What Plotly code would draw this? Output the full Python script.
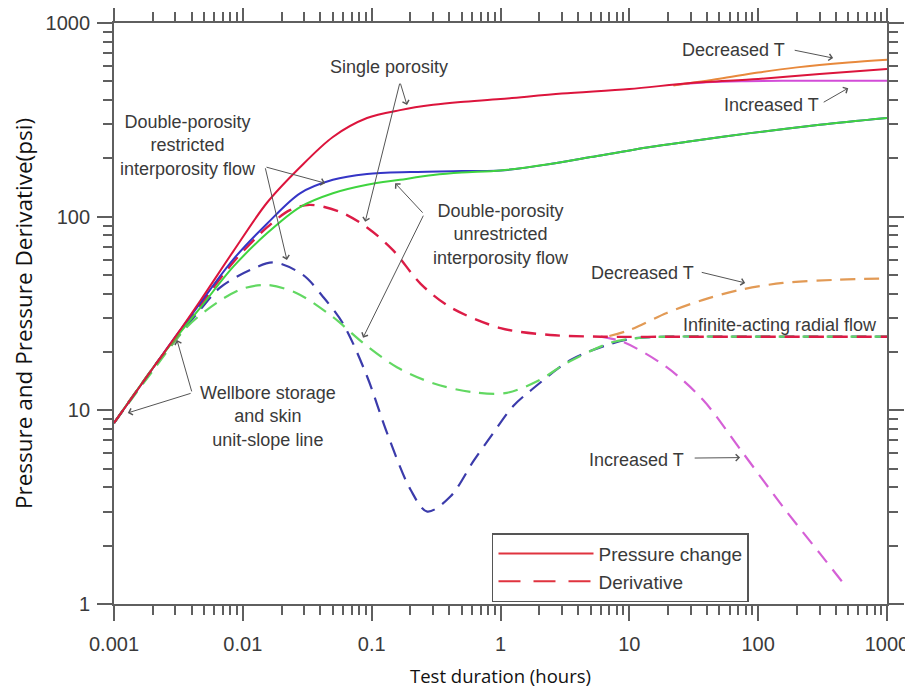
import math
import plotly.graph_objects as go

# ---------------- data ----------------
# Single porosity – pressure change (solid red)
red_p_x = [0.001, 0.002, 0.003, 0.0047, 0.0084, 0.0154, 0.0278, 0.05, 0.092, 0.166, 0.3, 0.49, 1, 3, 10, 30, 100, 300, 1000]
red_p_y = [8.6, 16.5, 24, 37, 66, 118, 180, 258, 323, 355, 378, 391, 405, 432, 456, 490, 514, 545, 578]

# Decreased T – pressure (solid orange)
org_p_x = [22, 50, 100, 200, 500, 1000]
org_p_y = [476, 515, 555, 590, 625, 646]

# Increased T – pressure (solid magenta)
mag_p_x = [22, 40, 80, 200, 1000]
mag_p_y = [478, 495, 501, 503, 503]

# Double porosity restricted – pressure (solid blue)
blu_p_x = [0.001, 0.002, 0.003, 0.0047, 0.0084, 0.0154, 0.0278, 0.05, 0.092, 0.2, 0.5, 1, 2.43, 5, 14.5, 30, 86.7, 300, 1000]
blu_p_y = [8.6, 16.5, 24, 36, 60, 92, 132, 155, 166, 170, 172, 173, 187, 203, 229, 245, 270, 298, 323]

# Double porosity unrestricted – pressure (solid green)
grn_p_x = [0.001, 0.002, 0.003, 0.0047, 0.0084, 0.0154, 0.0278, 0.05, 0.092, 0.166, 0.3, 0.5, 1, 2.43, 5, 14.5, 30, 86.7, 300, 1000]
grn_p_y = [8.6, 16.5, 23.5, 34, 55, 82, 112, 132, 146, 155, 164, 169, 173, 187, 203, 229, 245, 270, 298, 323]

# Single porosity – derivative (dashed red)
red_d_x = [0.001, 0.002, 0.003, 0.0047, 0.0084, 0.0154, 0.0232, 0.033, 0.0566, 0.092, 0.147, 0.24, 0.41, 1, 2.43, 6, 30, 100, 1000]
red_d_y = [8.6, 16.5, 23.5, 35, 58, 88, 108, 115, 106, 88, 67, 45, 34, 26.6, 24.5, 24, 24, 24, 24]

# Decreased T – derivative (dashed orange)
org_d_x = [7, 10.1, 19.5, 37.4, 72.5, 156, 400, 1000]
org_d_y = [24.2, 26, 31.8, 37.2, 41.9, 45.5, 47.2, 48]

# Increased T – derivative (dashed magenta)
mag_d_x = [6, 9, 19.5, 37.4, 72.5, 156, 300, 490]
mag_d_y = [24, 22.5, 16.7, 11.3, 6.3, 3.17, 1.83, 1.21]

# Double porosity restricted – derivative (dashed blue)
blu_d_x = [0.001, 0.002, 0.003, 0.00465, 0.00665, 0.0114, 0.0175, 0.0293, 0.042, 0.06, 0.092, 0.132, 0.2, 0.27, 0.41, 0.62, 0.85, 1.25, 1.8, 3.5, 7.1, 10.7, 20, 100, 1000]
blu_d_y = [8.6, 16.3, 23, 33, 43, 53, 58, 50, 38.5, 28, 15, 7.6, 3.9, 3.0, 3.6, 5.5, 7.4, 10.5, 13, 18.2, 22, 23.5, 24, 24, 24]

# Double porosity unrestricted – derivative (dashed green)
grn_d_x = [0.001, 0.002, 0.0037, 0.0063, 0.01, 0.0154, 0.026, 0.05, 0.0857, 0.157, 0.3, 0.61, 1.12, 2.03, 3.29, 7.1, 10.7, 20, 100, 1000]
grn_d_y = [8.6, 16, 27, 36, 42.5, 44.4, 40.4, 30.3, 22.3, 16.7, 13.8, 12.4, 12.3, 14.4, 17.6, 22.3, 23.5, 24, 24, 24]

x_tick_vals = [0.001, 0.01, 0.1, 1, 10, 100, 1000]
x_tick_text = ["0.001", "0.01", "0.1", "1", "10", "100", "1000"]
y_tick_vals = [1, 10, 100, 1000]
y_tick_text = ["1", "10", "100", "1000"]
minor_x = [m * 10 ** e for e in range(-3, 3) for m in range(2, 10)]
minor_y = [m * 10 ** e for e in range(0, 3) for m in range(2, 10)]

# ---------------- figure ----------------
DASH = "15px,9px"
fig = go.Figure()


def add(x, y, color, dash=None, width=2.0):
    fig.add_trace(go.Scatter(
        x=x, y=y, mode="lines", showlegend=False,
        line=dict(color=color, width=width, dash=dash or "solid", shape="spline", smoothing=0.9),
        hoverinfo="skip"))


add(blu_d_x, blu_d_y, "#3b3bab", DASH, 2.2)
add(grn_d_x, grn_d_y, "#62d862", DASH, 2.2)
add(mag_d_x, mag_d_y, "#d560d6", DASH, 2.2)
add(org_d_x, org_d_y, "#e29a55", DASH, 2.2)
add(red_d_x, red_d_y, "#dc1c46", DASH, 2.4)
add(blu_p_x, blu_p_y, "#3535c6")
add(grn_p_x, grn_p_y, "#3fd43f")
add(mag_p_x, mag_p_y, "#d24cd8")
add(org_p_x, org_p_y, "#e8893c")
add(red_p_x, red_p_y, "#dc143c")

# legend entries
fig.add_trace(go.Scatter(x=[None], y=[None], mode="lines", name="Pressure change",
                         line=dict(color="#e0333f", width=2), showlegend=True))
fig.add_trace(go.Scatter(x=[None], y=[None], mode="lines", name="Derivative",
                         line=dict(color="#e0333f", width=2, dash="22px,13px"), showlegend=True))
# invisible trace carrying the minor-tick overlay axes
fig.add_trace(go.Scatter(x=[None], y=[None], xaxis="x2", yaxis="y2", mode="lines",
                         showlegend=False, hoverinfo="skip"))

lg = math.log10
txt_font = dict(family="Arial", size=18, color="#3a3a3a")

labels = [
    ("Double-porosity<br>restricted<br>interporosity flow", 0.00376, 234),
    ("Single porosity", 0.1365, 593),
    ("Double-porosity<br>unrestricted<br>interporosity flow", 1.01, 80.5),
    ("Wellbore storage<br>and skin<br>unit-slope line", 0.0157, 9.25),
    ("Decreased T", 64, 726),
    ("Increased T", 126, 377),
    ("Decreased T", 12.6, 51.2),
    ("Infinite-acting radial flow", 148, 27.6),
    ("Increased T", 11.3, 5.55),
]
for t, x, y in labels:
    fig.add_annotation(x=lg(x), y=lg(y), text=t, showarrow=False, font=txt_font,
                       xanchor="center", yanchor="middle", align="center")

# arrows: (tail x, tail y, head x, head y)
arrows = [
    (0.01486, 181, 0.0435, 149),
    (0.01486, 181, 0.0220, 59.7),
    (0.166, 495, 0.188, 377),
    (0.166, 495, 0.089, 94),
    (0.255, 103, 0.152, 149),
    (0.255, 103, 0.0857, 23.7),
    (0.00404, 12.3, 0.00308, 23.1),
    (0.00404, 12.3, 0.00128, 9.7),
    (187, 726, 382, 659),
    (314, 386, 500, 461),
    (35.5, 51.8, 79.3, 45.5),
    (31.3, 5.67, 72.4, 5.7),
]
for tx, ty, hx, hy in arrows:
    fig.add_annotation(x=lg(hx), y=lg(hy), ax=lg(tx), ay=lg(ty), axref="x", ayref="y",
                       text="", showarrow=True, arrowhead=4, arrowsize=1.3, arrowwidth=1,
                       arrowcolor="#555555", standoff=0, startstandoff=0)

AX_COL = "#5f5f5f"
axis_common = dict(
    type="log", showgrid=False, zeroline=False, automargin=False,
    showline=True, linecolor=AX_COL, linewidth=1.8, mirror="ticks",
    ticks="outside", ticklen=15, tickwidth=1.8, tickcolor=AX_COL,
    tickfont=dict(family="Arial", size=20, color="#3a3a3a"),
)
fig.update_layout(
    xaxis=dict(**axis_common, range=[-3, 3], tickmode="array",
               tickvals=x_tick_vals, ticktext=x_tick_text, ticklabelstandoff=6,
               title=dict(text="Test duration (hours)", standoff=16,
                          font=dict(family="Open Sans", size=18.5, color="#111111"))),
    yaxis=dict(**axis_common, range=[0, 3], tickmode="array",
               tickvals=y_tick_vals, ticktext=y_tick_text, ticklabelstandoff=3,
               title=dict(text="Pressure and Pressure Derivative(psi)", standoff=8,
                          font=dict(family="Open Sans", size=22.5, color="#111111"))),
    xaxis2=dict(type="log", range=[-3, 3], overlaying="x", anchor="y2", automargin=False,
                showgrid=False, zeroline=False, showline=False, mirror="ticks",
                tickmode="array", tickvals=minor_x, ticks="outside", ticklen=10,
                tickwidth=1.6, tickcolor=AX_COL, showticklabels=False),
    yaxis2=dict(type="log", range=[0, 3], overlaying="y", anchor="x2", automargin=False,
                showgrid=False, zeroline=False, showline=False, mirror="ticks",
                tickmode="array", tickvals=minor_y, ticks="outside", ticklen=10,
                tickwidth=1.6, tickcolor=AX_COL, showticklabels=False),
    # the page body adds an 8px offset, so the figure is sized to fit the window
    width=905, height=684,
    margin=dict(l=106, r=26, t=15, b=88),
    paper_bgcolor="white", plot_bgcolor="white",
    showlegend=True,
    legend=dict(x=0.489, y=0.122, xanchor="left", yanchor="top",
                bgcolor="white", bordercolor="#555555", borderwidth=1.5,
                font=dict(family="Arial", size=19, color="#3a3a3a"),
                itemwidth=95, tracegroupgap=0),
)

fig.write_html("out.html")
